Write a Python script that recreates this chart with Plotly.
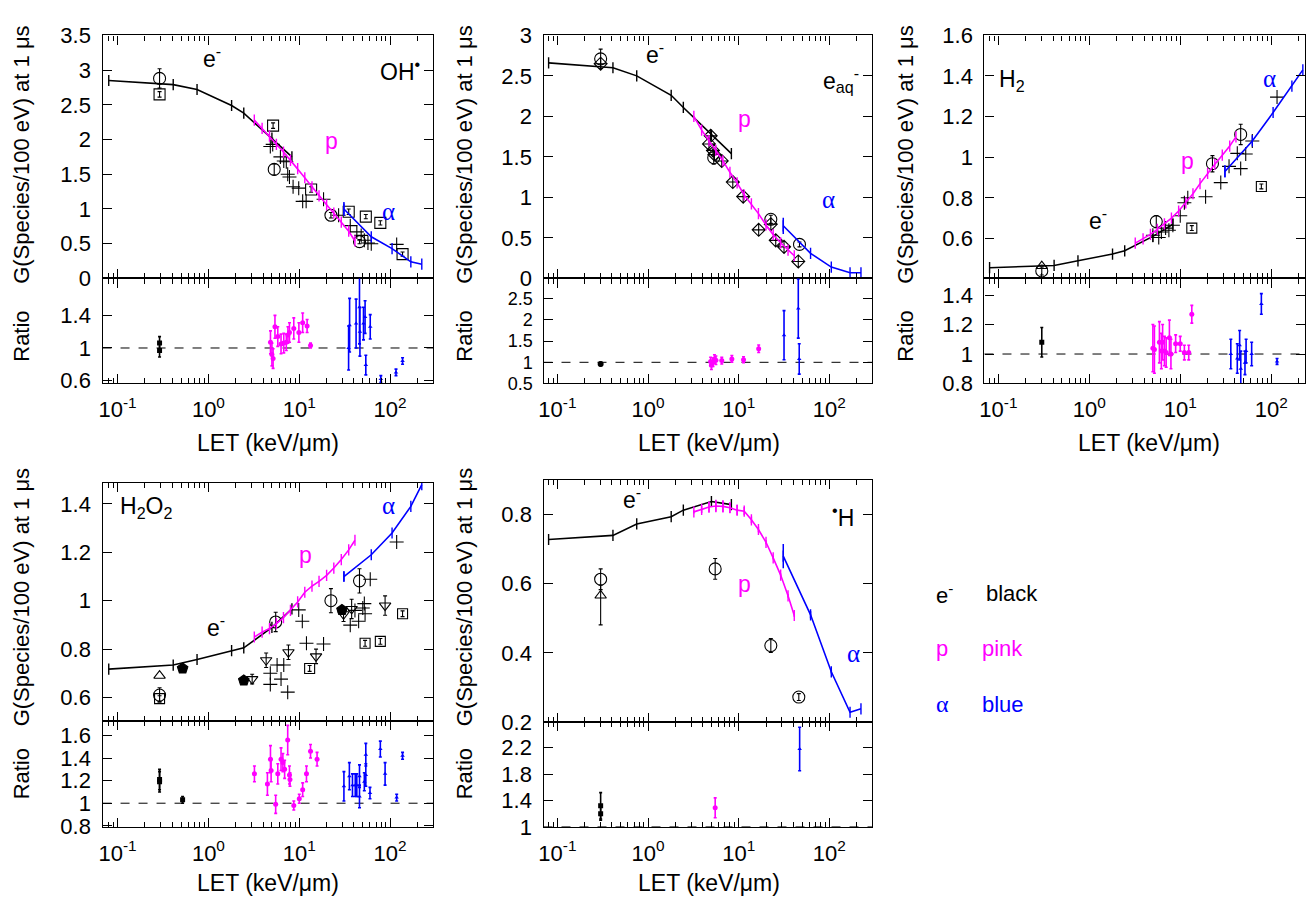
import plotly.graph_objects as go

# ---------------- data ----------------
LET_E = [0.08, 0.41, 0.75, 1.8, 2.45, 5.0, 8.3]
LET_P = [3.2, 3.9, 4.7, 5.6, 6.7, 8.0, 9.6, 11.5, 13.8, 16.5, 20, 24, 29, 35, 41]
LET_A = [31, 62, 105, 169, 223]

# --- OH ---
OH_E = [2.85, 2.79, 2.72, 2.49, 2.38, 2.02, 1.75]
OH_P = [2.28, 2.16, 2.05, 1.93, 1.82, 1.70, 1.58, 1.45, 1.32, 1.19, 1.06, 0.94, 0.81, 0.68, 0.54]
OH_A = [1.0, 0.60, 0.43, 0.24, 0.205]
OH_A_ERR = [0.1, 0, 0, 0, 0]
OH_CIRC_X = [0.29, 5.3, 22.3, 46]
OH_CIRC_Y = [2.88, 1.57, 0.91, 0.53]
OH_CIRC_ERR = [0.14, 0.08, 0.04, 0.03]
OH_SQ_X = [0.29, 5.15, 13.5, 35, 54, 78, 137]
OH_SQ_Y = [2.65, 2.20, 1.28, 0.96, 0.89, 0.80, 0.35]
OH_SQ_ERR = [0.04, 0.04, 0.04, 0.04, 0.03, 0.03, 0.03]
OH_CR_X = [4.8, 5.1, 6.2, 6.75, 7.2, 7.46, 7.8, 8.55, 9.86, 10.9, 11.9, 18.5, 27.1, 36.4, 43, 48, 52, 57, 62, 118]
OH_CR_Y = [1.90, 1.93, 1.75, 1.69, 1.68, 1.50, 1.46, 1.32, 1.30, 1.11, 1.11, 1.14, 0.91, 0.76, 0.67, 0.62, 0.55, 0.51, 0.50, 0.49]
OH_RE_X = [0.29, 0.29]
OH_RE_Y = [1.06, 0.97]
OH_RE_ERR = [0.08, 0.08]
OH_RP_X = [4.82, 5.0, 5.15, 5.4, 5.8, 6.3, 6.75, 7.2, 7.5, 7.8, 8.7, 9.9, 10.9, 12.2, 13.3]
OH_RP_Y = [1.07, 0.92, 0.87, 1.26, 1.14, 1.05, 1.06, 1.07, 1.16, 1.19, 1.24, 1.19, 1.31, 1.27, 1.03]
OH_RP_ERR = [0.14, 0.14, 0.12, 0.14, 0.12, 0.12, 0.12, 0.1, 0.1, 0.12, 0.13, 0.12, 0.12, 0.08, 0.03]
OH_RA_X = [34.9, 35.8, 42.2, 46.0, 46.5, 50.9, 53.0, 54.0, 60.4, 79, 116, 137]
OH_RA_Y = [1.0, 1.28, 1.30, 1.50, 1.20, 1.30, 1.38, 0.79, 1.26, 0.62, 0.70, 0.84]
OH_RA_ERR = [0.27, 0.33, 0.3, 0.45, 0.3, 0.2, 0.2, 0.12, 0.15, 0.04, 0.04, 0.04]

# --- e_aq ---
EAQ_E = [2.66, 2.60, 2.50, 2.26, 2.11, 1.77, 1.54]
EAQ_P = [2.0, 1.83, 1.70, 1.58, 1.45, 1.31, 1.18, 1.03, 0.92, 0.80, 0.66, 0.54, 0.44, 0.35, 0.28]
EAQ_A = [0.65, 0.31, 0.14, 0.07, 0.07]
EAQ_A_ERR = [0.1, 0, 0, 0, 0]
EAQ_CIRC_X = [0.30, 5.3, 22.6, 46.8]
EAQ_CIRC_Y = [2.71, 1.49, 0.73, 0.42]
EAQ_CIRC_ERR = [0.12, 0.08, 0.05, 0.03]
EAQ_DIA_X = [0.30, 4.9, 4.7, 5.2, 5.4, 6.5, 8.6, 11.2, 16.6, 22.6, 25.6, 31.6, 45.4]
EAQ_DIA_Y = [2.65, 1.76, 1.66, 1.58, 1.53, 1.45, 1.19, 1.01, 0.60, 0.67, 0.47, 0.39, 0.21]
EAQ_RE_X = [0.30]
EAQ_RE_Y = [0.96]
EAQ_RE_ERR = [0.04]
EAQ_RP_X = [4.9, 5.0, 5.2, 5.4, 5.6, 6.5, 8.4, 11.3, 16.6]
EAQ_RP_Y = [1.02, 0.93, 1.0, 1.08, 1.05, 1.04, 1.08, 1.06, 1.32]
EAQ_RP_ERR = [0.1, 0.1, 0.1, 0.1, 0.1, 0.08, 0.08, 0.07, 0.09]
EAQ_RA_X = [31.6, 45.4, 46.5]
EAQ_RA_Y = [1.64, 2.27, 1.08]
EAQ_RA_ERR = [0.58, 0.7, 0.36]

# --- H2 ---
H2_E = [0.456, 0.467, 0.49, 0.523, 0.539, 0.61, 0.67]
H2_P = [0.577, 0.598, 0.62, 0.645, 0.672, 0.70, 0.735, 0.775, 0.82, 0.87, 0.92, 0.965, 1.01, 1.055, 1.10]
H2_A = [0.93, 1.08, 1.22, 1.35, 1.43]
H2_A_ERR = [0.03, 0, 0, 0, 0]
H2_CIRC_X = [0.30, 5.45, 22.6, 46.2]
H2_CIRC_Y = [0.44, 0.683, 0.968, 1.112]
H2_CIRC_ERR = [0.02, 0.03, 0.04, 0.05]
H2_TRI_X = [0.30]
H2_TRI_Y = [0.464]
H2_SQ_X = [13.4, 78]
H2_SQ_Y = [0.651, 0.856]
H2_SQ_ERR = [0.012, 0.012]
H2_CR_X = [5.0, 5.8, 6.2, 6.9, 7.5, 8.3, 10, 11.1, 12.1, 19, 27.9, 34.4, 42.4, 46.2, 52.5, 62, 116]
H2_CR_Y = [0.616, 0.605, 0.632, 0.651, 0.640, 0.665, 0.712, 0.776, 0.80, 0.805, 0.875, 0.955, 1.019, 0.944, 1.016, 1.08, 1.296]
H2_RE_X = [0.30]
H2_RE_Y = [1.08]
H2_RE_ERR = [0.1]
H2_RP_X = [5.0, 5.2, 5.9, 6.2, 6.4, 6.7, 7.0, 7.6, 7.9, 8.9, 10, 11.1, 12.4, 13.4]
H2_RP_Y = [1.04, 1.03, 1.08, 1.02, 1.08, 1.02, 1.01, 1.11, 1.0, 1.07, 1.07, 1.01, 1.01, 1.27]
H2_RP_ERR = [0.16, 0.16, 0.14, 0.12, 0.12, 0.1, 0.1, 0.12, 0.1, 0.06, 0.05, 0.05, 0.05, 0.06]
H2_RA_X = [36, 42.4, 45, 46.3, 51.5, 53, 61, 78, 116]
H2_RA_Y = [1.0, 0.97, 1.06, 0.90, 0.94, 1.02, 1.0, 1.34, 0.95]
H2_RA_ERR = [0.1, 0.1, 0.1, 0.12, 0.08, 0.08, 0.08, 0.07, 0.02]

# --- H2O2 ---
H2O2_E = [0.717, 0.734, 0.757, 0.794, 0.805, 0.89, 0.966]
H2O2_P = [0.85, 0.87, 0.885, 0.905, 0.93, 0.96, 0.995, 1.035, 1.06, 1.08, 1.105, 1.135, 1.17, 1.21, 1.25]
H2O2_A = [1.10, 1.19, 1.28, 1.39, 1.48]
H2O2_A_ERR = [0.02, 0, 0, 0, 0]
H2O2_TRU_X = [0.29]
H2O2_TRU_Y = [0.69]
H2O2_CIRC_X = [0.29, 5.5, 22.3, 46]
H2O2_CIRC_Y = [0.61, 0.912, 1.0, 1.082]
H2O2_CIRC_ERR = [0.03, 0.04, 0.05, 0.05]
H2O2_SQ_X = [0.29, 13.0, 53, 78, 137]
H2O2_SQ_Y = [0.595, 0.72, 0.824, 0.832, 0.946]
H2O2_SQ_ERR = [0.012, 0.012, 0.012, 0.012, 0.012]
H2O2_PENT_X = [0.52, 2.45, 29.5]
H2O2_PENT_Y = [0.72, 0.67, 0.962]
H2O2_TRD_X = [3.03, 4.32, 7.6, 15.3, 30.7, 37.7, 88]
H2O2_TRD_Y = [0.676, 0.754, 0.787, 0.77, 0.944, 0.966, 0.98]
H2O2_TRD_ERR = [0.02, 0.03, 0.03, 0.03, 0.03, 0.04, 0.04]
H2O2_CR_X = [4.8, 4.8, 5.7, 6.75, 6.3, 7.46, 9.86, 10.8, 12.0, 18.5, 36.4, 41, 45, 50, 52, 53, 60.4, 118]
H2O2_CR_Y = [0.70, 0.654, 0.734, 0.734, 0.676, 0.622, 0.962, 0.915, 0.824, 0.821, 0.899, 0.96, 0.915, 0.97, 0.988, 0.946, 1.089, 1.243]
H2O2_RE_X = [0.29, 0.29, 0.52]
H2O2_RE_Y = [1.21, 1.19, 1.03]
H2O2_RE_ERR = [0.09, 0.09, 0.03]
H2O2_RP_X = [3.21, 4.46, 4.82, 4.9, 5.5, 5.8, 6.3, 6.6, 6.9, 7.46, 7.8, 7.9, 8.7, 10.0, 10.9, 12.0, 13.3, 15.7]
H2O2_RP_Y = [1.26, 1.17, 1.39, 1.29, 0.99, 1.26, 1.39, 1.36, 1.30, 1.56, 1.25, 1.21, 0.98, 1.04, 1.12, 1.26, 1.46, 1.39]
H2O2_RP_ERR = [0.07, 0.1, 0.12, 0.1, 0.08, 0.09, 0.1, 0.08, 0.08, 0.13, 0.08, 0.06, 0.04, 0.04, 0.06, 0.07, 0.06, 0.06]
H2O2_RA_X = [31, 35.6, 38.5, 41.3, 43, 46, 46, 52, 54, 54, 60, 78, 88, 118, 137]
H2O2_RA_Y = [1.15, 1.24, 1.16, 1.16, 1.16, 1.24, 1.06, 1.19, 1.43, 1.25, 1.09, 1.48, 1.26, 1.05, 1.42]
H2O2_RA_ERR = [0.13, 0.12, 0.1, 0.1, 0.1, 0.1, 0.1, 0.08, 0.1, 0.1, 0.05, 0.07, 0.1, 0.03, 0.03]

# --- H ---
H_E = [0.728, 0.74, 0.773, 0.794, 0.813, 0.838, 0.829]
H_P = [0.808, 0.815, 0.822, 0.825, 0.824, 0.82, 0.813, 0.81, 0.785, 0.757, 0.72, 0.675, 0.625, 0.565, 0.508]
H_P_ERR = [0.005, 0.01, 0.015, 0.018, 0.018, 0.015, 0.015, 0.012, 0.01, 0.008, 0.006, 0.005, 0.005, 0.005, 0.004]
H_A = [0.68, 0.51, 0.345, 0.228, 0.238]
H_A_ERR = [0.035, 0.01, 0.005, 0, 0]
H_CIRC_X = [0.30, 5.5, 22.6, 46]
H_CIRC_Y = [0.613, 0.643, 0.421, 0.272]
H_CIRC_ERR = [0.03, 0.03, 0.02, 0.01]
H_TRI_X = [0.30]
H_TRI_Y = [0.566]
H_TRI_ERR_UP = [0.03]
H_TRI_ERR_DN = [0.085]
H_RE_X = [0.30, 0.30]
H_RE_Y = [1.32, 1.20]
H_RE_ERR = [0.2, 0.1]
H_RP_X = [5.5]
H_RP_Y = [1.29]
H_RP_ERR = [0.15]
H_RA_X = [47]
H_RA_Y = [2.18]
H_RA_ERR = [0.33]

X_TICKS = [0.1, 1, 10, 100]
X_TICKTEXT = ["10<sup>-1</sup>", "10<sup>0</sup>", "10<sup>1</sup>", "10<sup>2</sup>"]
X_MINOR = [0.07, 0.08, 0.09, 0.2, 0.3, 0.4, 0.5, 0.6, 0.7, 0.8, 0.9,
           2, 3, 4, 5, 6, 7, 8, 9, 20, 30, 40, 50, 60, 70, 80, 90, 200]

# ---------------- style ----------------
W, H = 1306, 908
FONT = "Liberation Sans, Arial, Helvetica, sans-serif"
BLK, PNK, BLU = "#000000", "#ff00ff", "#0000ff"


def px(x):
    return x / W


def py(y):
    return 1 - y / H


fig = go.Figure()


def theory(x, y, color, n, err=None):
    ed = None
    if err is not None:
        ed = dict(type="data", array=err, visible=True, color=color, thickness=1.5, width=0)
    fig.add_trace(go.Scatter(
        x=x, y=y, mode="lines+markers", xaxis=f"x{n}", yaxis=f"y{n}",
        line=dict(color=color, width=1.6),
        marker=dict(symbol="line-ns", size=8, color=color, line=dict(width=1.4, color=color)),
        error_y=ed, showlegend=False, hoverinfo="skip"))


def exp(x, y, symbol, n, err=None, size=11, errm=None):
    ed = None
    if err is not None:
        ed = dict(type="data", array=err, visible=True, color=BLK, thickness=1.1, width=2)
        if errm is not None:
            ed["arrayminus"] = errm
            ed["symmetric"] = False
    fig.add_trace(go.Scatter(
        x=x, y=y, mode="markers", xaxis=f"x{n}", yaxis=f"y{n}",
        marker=dict(symbol=symbol, size=size, color=BLK, line=dict(width=1.1, color=BLK)),
        error_y=ed, showlegend=False, hoverinfo="skip"))


def ratio(x, y, err, color, symbol, n, size=5):
    fig.add_trace(go.Scatter(
        x=x, y=y, mode="markers", xaxis=f"x{n}", yaxis=f"y{n}",
        marker=dict(symbol=symbol, size=size, color=color, line=dict(width=0)),
        error_y=dict(type="data", array=err, visible=True, color=color, thickness=1.6, width=1.5),
        showlegend=False, hoverinfo="skip"))


# ---- Panel 1 OH (x1/y1, ratio x6/y6)
exp(OH_CR_X, OH_CR_Y, "cross-thin-open", 1, size=10)
exp(OH_SQ_X, OH_SQ_Y, "square-open", 1, err=OH_SQ_ERR, size=11)
exp(OH_CIRC_X, OH_CIRC_Y, "circle-open", 1, err=OH_CIRC_ERR, size=12)
theory(LET_E, OH_E, BLK, 1)
theory(LET_P, OH_P, PNK, 1)
theory(LET_A, OH_A, BLU, 1, err=OH_A_ERR)
ratio(OH_RE_X, OH_RE_Y, OH_RE_ERR, BLK, "square", 6)
ratio(OH_RP_X, OH_RP_Y, OH_RP_ERR, PNK, "circle", 6)
ratio(OH_RA_X, OH_RA_Y, OH_RA_ERR, BLU, "triangle-up", 6, size=4)

# ---- Panel 2 e_aq
exp(EAQ_DIA_X, EAQ_DIA_Y, "diamond-cross-open", 2, size=10)
exp(EAQ_CIRC_X, EAQ_CIRC_Y, "circle-open", 2, err=EAQ_CIRC_ERR, size=12)
theory(LET_E, EAQ_E, BLK, 2)
theory(LET_P, EAQ_P, PNK, 2)
theory(LET_A, EAQ_A, BLU, 2, err=EAQ_A_ERR)
ratio(EAQ_RE_X, EAQ_RE_Y, EAQ_RE_ERR, BLK, "circle", 7, size=6)
ratio(EAQ_RP_X, EAQ_RP_Y, EAQ_RP_ERR, PNK, "circle", 7)
ratio(EAQ_RA_X, EAQ_RA_Y, EAQ_RA_ERR, BLU, "triangle-up", 7, size=4)

# ---- Panel 3 H2
exp(H2_CR_X, H2_CR_Y, "cross-thin-open", 3, size=10)
exp(H2_SQ_X, H2_SQ_Y, "square-open", 3, err=H2_SQ_ERR, size=10)
exp(H2_TRI_X, H2_TRI_Y, "triangle-up-open", 3, size=10)
exp(H2_CIRC_X, H2_CIRC_Y, "circle-open", 3, err=H2_CIRC_ERR, size=12)
theory(LET_E, H2_E, BLK, 3)
theory(LET_P, H2_P, PNK, 3)
theory(LET_A, H2_A, BLU, 3, err=H2_A_ERR)
ratio(H2_RE_X, H2_RE_Y, H2_RE_ERR, BLK, "square", 8)
ratio(H2_RP_X, H2_RP_Y, H2_RP_ERR, PNK, "circle", 8)
ratio(H2_RA_X, H2_RA_Y, H2_RA_ERR, BLU, "triangle-up", 8, size=4)

# ---- Panel 4 H2O2
exp(H2O2_CR_X, H2O2_CR_Y, "cross-thin-open", 4, size=10)
exp(H2O2_SQ_X, H2O2_SQ_Y, "square-open", 4, err=H2O2_SQ_ERR, size=10)
exp(H2O2_TRD_X, H2O2_TRD_Y, "triangle-down-open", 4, err=H2O2_TRD_ERR, size=10)
exp(H2O2_TRU_X, H2O2_TRU_Y, "triangle-up-open", 4, size=10)
exp(H2O2_CIRC_X, H2O2_CIRC_Y, "circle-open", 4, err=H2O2_CIRC_ERR, size=12)
exp(H2O2_PENT_X, H2O2_PENT_Y, "pentagon", 4, size=11)
theory(LET_E, H2O2_E, BLK, 4)
theory(LET_P, H2O2_P, PNK, 4)
theory(LET_A, H2O2_A, BLU, 4, err=H2O2_A_ERR)
ratio(H2O2_RE_X, H2O2_RE_Y, H2O2_RE_ERR, BLK, "square", 9)
ratio(H2O2_RP_X, H2O2_RP_Y, H2O2_RP_ERR, PNK, "circle", 9)
ratio(H2O2_RA_X, H2O2_RA_Y, H2O2_RA_ERR, BLU, "triangle-up", 9, size=4)

# ---- Panel 5 H
exp(H_TRI_X, H_TRI_Y, "triangle-up-open", 5, err=H_TRI_ERR_UP, errm=H_TRI_ERR_DN, size=10)
exp(H_CIRC_X, H_CIRC_Y, "circle-open", 5, err=H_CIRC_ERR, size=12)
theory(LET_E, H_E, BLK, 5)
theory(LET_P, H_P, PNK, 5, err=H_P_ERR)
theory(LET_A, H_A, BLU, 5, err=H_A_ERR)
ratio(H_RE_X, H_RE_Y, H_RE_ERR, BLK, "square", 10)
ratio(H_RP_X, H_RP_Y, H_RP_ERR, PNK, "circle", 10)
ratio(H_RA_X, H_RA_Y, H_RA_ERR, BLU, "triangle-up", 10, size=4)

# ---------------- axes ----------------
TICKFONT = dict(family=FONT, size=22, color=BLK)
SMALLFONT = dict(family=FONT, size=18, color=BLK)
COLS = {1: (98, 430), 2: (541, 871), 3: (984, 1306), 4: (98, 430), 5: (541, 871)}
XR = {1: [-1.165, 2.472], 2: [-1.153, 2.47], 3: [-1.153, 2.372], 4: [-1.165, 2.472], 5: [-1.153, 2.47]}
MAIN_Y = {1: (24, 274), 2: (24, 274), 3: (24, 274), 4: (484, 729), 5: (481, 730)}
RAT_Y = {1: (274, 382), 2: (274, 382), 3: (274, 382), 4: (729, 838), 5: (730, 838)}
MAIN_RANGE = {1: [0, 3.5], 2: [0, 3.0], 3: [0.403, 1.6], 4: [0.503, 1.488], 5: [0.2, 0.901]}
MAIN_TV = {1: [0, 0.5, 1, 1.5, 2, 2.5, 3, 3.5], 2: [0, 0.5, 1, 1.5, 2, 2.5, 3],
           3: [0.6, 0.8, 1, 1.2, 1.4, 1.6], 4: [0.6, 0.8, 1, 1.2, 1.4], 5: [0.2, 0.4, 0.6, 0.8]}
MAIN_TT = {1: ["0", "0.5", "1", "1.5", "2", "2.5", "3", "3.5"], 2: ["0", "0.5", "1", "1.5", "2", "2.5", "3"],
           3: ["0.6", "0.8", "1", "1.2", "1.4", "1.6"], 4: ["0.6", "0.8", "1", "1.2", "1.4"],
           5: ["0.2", "0.4", "0.6", "0.8"]}
RAT_RANGE = {1: [0.564, 1.854], 2: [0.5, 2.98], 3: [0.8, 1.513], 4: [0.79, 1.729], 5: [1.0, 2.59]}
RAT_TV = {1: [0.6, 1, 1.4], 2: [0.5, 1, 1.5, 2, 2.5], 3: [0.8, 1, 1.2, 1.4],
          4: [0.8, 1, 1.2, 1.4, 1.6], 5: [1, 1.4, 1.8, 2.2]}
RAT_TT = {1: ["0.6", "1", "1.4"], 2: ["0.5", "1", "1.5", "2", "2.5"], 3: ["0.8", "1", "1.2", "1.4"],
          4: ["0.8", "1", "1.2", "1.4", "1.6"], 5: ["1", "1.4", "1.8", "2.2"]}

layout = dict(width=W, height=H, margin=dict(l=0, r=0, t=0, b=0),
              paper_bgcolor="white", plot_bgcolor="white", showlegend=False,
              font=dict(family=FONT, color=BLK))


def xaxis(dom, rng, labels, anchor):
    return dict(type="log", domain=dom, range=rng, anchor=anchor,
                showgrid=False, zeroline=False, showline=True, linecolor=BLK, linewidth=1.4,
                mirror="ticks", ticks="inside", ticklen=9, tickwidth=1.1, tickcolor=BLK,
                tickmode="array", tickvals=X_TICKS, ticktext=X_TICKTEXT,
                showticklabels=labels, tickfont=TICKFONT, ticklabelstandoff=6,
                minor=dict(tickmode="array", tickvals=X_MINOR, ticks="inside", ticklen=5,
                           tickwidth=1, tickcolor=BLK, showgrid=False))


def yaxis(dom, rng, tv, tt, anchor, font=TICKFONT):
    return dict(domain=dom, range=rng, anchor=anchor,
                showgrid=False, zeroline=False, showline=True, linecolor=BLK, linewidth=1.4,
                mirror="ticks", ticks="inside", ticklen=9, tickwidth=1.1, tickcolor=BLK,
                tickmode="array", tickvals=tv, ticktext=tt, tickfont=font,
                ticklabelstandoff=6)


for p in range(1, 6):
    x0, x1 = COLS[p]
    xd = [px(x0), min(1.0, px(x1))]
    my0, my1 = MAIN_Y[p]
    ry0, ry1 = RAT_Y[p]
    mdom = [py(my1), py(my0)]
    rdom = [py(ry1), py(ry0)]
    r = p + 5
    layout[f"xaxis{p}"] = xaxis(xd, XR[p], False, f"y{p}")
    layout[f"yaxis{p}"] = yaxis(mdom, MAIN_RANGE[p], MAIN_TV[p], MAIN_TT[p], f"x{p}")
    layout[f"xaxis{r}"] = xaxis(xd, XR[p], True, f"y{r}")
    layout[f"yaxis{r}"] = yaxis(rdom, RAT_RANGE[p], RAT_TV[p], RAT_TT[p], f"x{r}",
                                font=SMALLFONT if p == 2 else TICKFONT)

fig.update_layout(**layout)

# dashed reference lines at ratio = 1
for r in range(6, 11):
    fig.add_shape(type="line", xref=f"x{r} domain", yref=f"y{r}", x0=0, x1=1, y0=1, y1=1,
                  line=dict(color=BLK, width=1, dash="dash"), layer="below")

# ---------------- text ----------------
ann = []


def txt(x, y, s, color=BLK, size=23, fam=FONT, xanchor="center", angle=0):
    ann.append(dict(x=px(x), y=py(y), xref="paper", yref="paper", text=s, showarrow=False,
                    font=dict(family=fam, size=size, color=color), xanchor=xanchor,
                    yanchor="middle", textangle=angle))


SERIF = "Liberation Serif, Times New Roman, serif"
GT = "G(Species/100 eV) at 1 μs"
for (gx, gy, ry) in [(17, 147, 333), (462, 147, 333), (905, 147, 333), (17, 602, 783), (462, 602, 783)]:
    txt(gx, gy, GT, size=22, angle=-90)
    txt(gx, ry, "Ratio", size=22, angle=-90)
for (lx, ly) in [(264, 443), (707, 443), (1149, 443), (264, 896), (707, 896)]:
    txt(lx, ly, "LET (keV/μm)", size=23)

# panel labels
txt(208, 46, "e<sup>-</sup>")
txt(397, 60, "OH<sup>•</sup>")
txt(328, 133, "p", PNK)
txt(385, 205, "α", BLU, fam=SERIF, size=25)

txt(653, 42, "e<sup>-</sup>")
txt(840, 70, "e<sub>aq</sub><sup>-</sup>")
txt(743, 110, "p", PNK)
txt(827, 193, "α", BLU, fam=SERIF, size=25)

txt(1012, 70, "H<sub>2</sub>")
txt(1270, 68, "α", BLU, fam=SERIF, size=25)
txt(1188, 153, "p", PNK)
txt(1098, 213, "e<sup>-</sup>")

txt(142, 510, "H<sub>2</sub>O<sub>2</sub>")
txt(385, 507, "α", BLU, fam=SERIF, size=25)
txt(302, 558, "p", PNK)
txt(212, 631, "e<sup>-</sup>")

txt(630, 500, "e<sup>-</sup>")
txt(842, 518, "<sup>•</sup>H")
txt(743, 588, "p", PNK)
txt(852, 660, "α", BLU, fam=SERIF, size=25)

# legend
txt(933, 598, "e<sup>-</sup>", size=22, xanchor="left")
txt(984, 598, "black", size=22, xanchor="left")
txt(933, 655, "p", PNK, size=22, xanchor="left")
txt(979, 655, "pink", PNK, size=22, xanchor="left")
txt(933, 712, "α", BLU, size=24, fam=SERIF, xanchor="left")
txt(980, 712, "blue", BLU, size=22, xanchor="left")

fig.update_layout(annotations=ann)
fig.write_html("out.html", config={"displayModeBar": False},
               post_script="document.body.style.margin='0';document.body.style.overflow='hidden';")
